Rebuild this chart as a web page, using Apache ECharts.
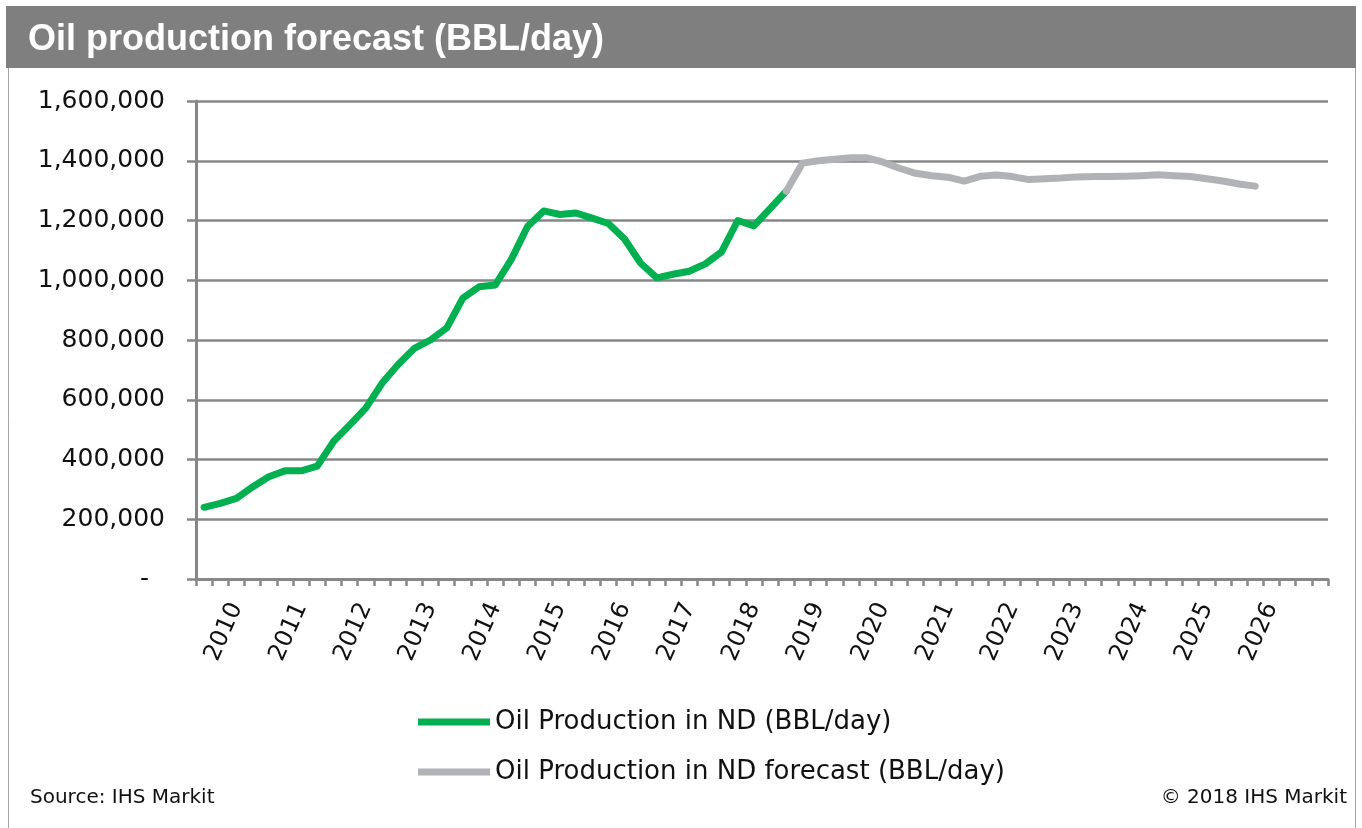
<!DOCTYPE html>
<html><head><meta charset="utf-8">
<script src="https://cdn.jsdelivr.net/npm/echarts@6/dist/echarts.min.js"></script>
<style>html,body{margin:0;padding:0;background:#fff}#c{width:1362px;height:828px}</style>
</head><body><div id="c"></div>
<script>
// ---- data ----
const years = [2010,2011,2012,2013,2014,2015,2016,2017,2018,2019,2020,2021,2022,2023,2024,2025,2026,2027];
const quarters = ['Q1','Q2','Q3','Q4'];
const quarterCount = 70;
const labelQuarter = 'Q3';
const actualName = 'Oil Production in ND (BBL/day)';
const forecastName = 'Oil Production in ND forecast (BBL/day)';
const actual = [240000,253000,270000,308000,342000,362000,362000,378000,460000,515000,572000,655000,718000,772000,800000,840000,940000,978000,984000,1070000,1180000,1232000,1220000,1225000,1208000,1190000,1138000,1057000,1008000,1020000,1030000,1055000,1095000,1200000,1182000,1240000,1298000];
const forecastStart = 36;
const forecast = [1298000,1392000,1400000,1405000,1410000,1410000,1395000,1375000,1358000,1350000,1345000,1332000,1348000,1352000,1347000,1337000,1340000,1342000,1346000,1347000,1347000,1348000,1350000,1353000,1350000,1347000,1340000,1332000,1322000,1315000];
const yMin = 0, yMax = 1600000, yInterval = 200000;

// ---- build ----
const categories = [];
years.forEach(y => quarters.forEach(q => { if (categories.length < quarterCount) categories.push(y + ' ' + q); }));
const pad = n => new Array(Math.max(0, n)).fill(null);
const actualData = actual.concat(pad(quarterCount - actual.length));
const forecastData = pad(forecastStart).concat(forecast).concat(pad(quarterCount - forecastStart - forecast.length));

const FONT = 'DejaVu Sans';
const GRID = '#878787';
const chart = echarts.init(document.getElementById('c'));
chart.setOption({
  animation: false,
  backgroundColor: '#ffffff',
  grid: { left: 196, right: 34, top: 101, bottom: 249, containLabel: false },
  xAxis: {
    type: 'category', data: categories, boundaryGap: true,
    axisLine: { show: true, lineStyle: { color: GRID, width: 3 } },
    axisTick: { show: true, interval: 0, length: 7, lineStyle: { color: GRID, width: 2.5 } },
    axisLabel: {
      interval: 0, rotate: 66, margin: 25, color: '#111', fontFamily: FONT, fontSize: 24,
      formatter: v => v.endsWith(labelQuarter) ? v.split(' ')[0] : ''
    },
    splitLine: { show: false }
  },
  yAxis: {
    type: 'value', min: yMin, max: yMax, interval: yInterval,
    axisLine: { show: true, lineStyle: { color: GRID, width: 3 } },
    axisTick: { show: true, length: 9, lineStyle: { color: GRID, width: 2.5 } },
    axisLabel: {
      margin: 31, color: '#111', fontFamily: FONT, fontSize: 25,
      formatter: v => v === 0 ? '-  ' : v.toLocaleString('en-US')
    },
    splitLine: { show: true, lineStyle: { color: GRID, width: 2.5 } }
  },
  legend: [
    { data: [actualName], left: 418, top: 707, padding: 0, icon: 'rect', itemWidth: 72, itemHeight: 7,
      textStyle: { fontFamily: FONT, fontSize: 26, color: '#111', lineHeight: 30 } },
    { data: [forecastName], left: 418, top: 757, padding: 0, icon: 'rect', itemWidth: 72, itemHeight: 7,
      textStyle: { fontFamily: FONT, fontSize: 26, color: '#111', lineHeight: 30 } }
  ],
  series: [
    { name: actualName, type: 'line', data: actualData, symbol: 'none', z: 2,
      lineStyle: { color: '#00b050', width: 7, cap: 'round', join: 'round' }, itemStyle: { color: '#00b050' } },
    { name: forecastName, type: 'line', data: forecastData, symbol: 'none', z: 3,
      lineStyle: { color: '#b1b2b6', width: 7, cap: 'round', join: 'round' }, itemStyle: { color: '#b1b2b6' } }
  ],
  graphic: [
    { type: 'rect', z: -1, shape: { x: 8.5, y: 6.5, width: 1347, height: 830 }, style: { fill: 'none', stroke: '#a6a6a6', lineWidth: 1 } },
    { type: 'rect', z: 0, shape: { x: 6, y: 6, width: 1350, height: 62 }, style: { fill: '#7f7f7f' } },
    { type: 'text', x: 28, y: 40, style: { text: 'Oil production forecast (BBL/day)', fill: '#ffffff', fontFamily: 'Liberation Sans', fontWeight: 'bold', fontSize: 36, verticalAlign: 'middle', align: 'left' } },
    { type: 'text', x: 30, y: 798, style: { text: 'Source: IHS Markit', fill: '#111', fontFamily: FONT, fontSize: 20, verticalAlign: 'middle', align: 'left' } },
    { type: 'text', x: 1347, y: 798, style: { text: '\u00a9 2018 IHS Markit', fill: '#111', fontFamily: FONT, fontSize: 20, verticalAlign: 'middle', align: 'right' } }
  ]
});
</script></body></html>
